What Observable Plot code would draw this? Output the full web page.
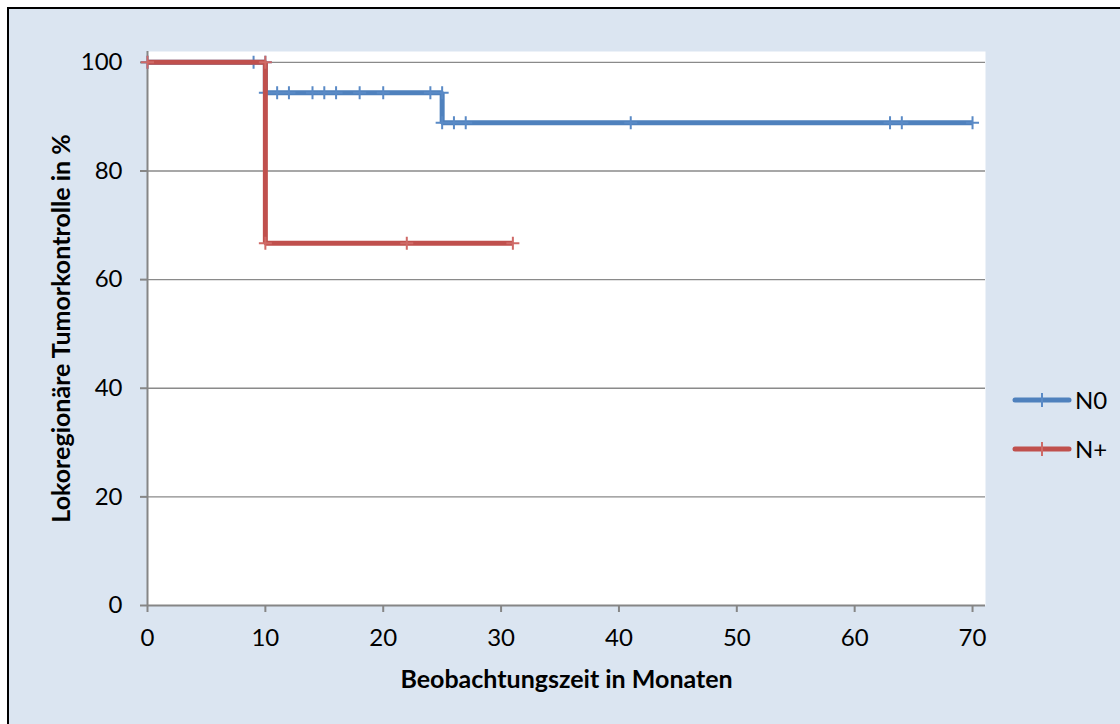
<!DOCTYPE html>
<html>
<head>
<meta charset="utf-8">
<script src="https://cdn.jsdelivr.net/npm/d3@7"></script>
<script src="https://cdn.jsdelivr.net/npm/@observablehq/plot@0.6"></script>
<style>
  html, body { margin: 0; padding: 0; overflow: hidden; background: #ffffff; }
  #wrap { position: relative; width: 1120px; height: 724px; overflow: hidden; font-family: Lato, "Open Sans", sans-serif; }
  #bg { position: absolute; left: 7px; top: 7px; width: 1200px; height: 800px; border: 2px solid #000; background: #dbe5f1; }
  #chart { position: absolute; left: 0; top: 0; }
  #legend { position: absolute; left: 1012px; top: 375px; }
  .item { display: flex; align-items: center; height: 49px; font-size: 24px; color: #000; }
  .item svg { margin-right: 3px; }
</style>
</head>
<body>
<div id="wrap">
  <div id="bg"></div>
  <div id="chart"></div>
  <div id="legend"></div>
</div>
<script>
// ---- data ----
const seriesNames = ["N0", "N+"];
const seriesColors = ["#4f81bd", "#c0504d"];
const markColors = ["#5a8ac6", "#cf6a67"];

const n0StepTime  = [0, 10, 25, 70];
const n0StepValue = [100, 94.4, 88.9, 88.9];
const nPlusStepTime  = [0, 10, 31];
const nPlusStepValue = [100, 66.7, 66.7];

const n0MarkTime  = [0, 9, 10, 10, 11, 12, 14, 15, 16, 18, 20, 24, 25, 25, 26, 27, 41, 63, 64, 70];
const n0MarkValue = [100, 100, 100, 94.4, 94.4, 94.4, 94.4, 94.4, 94.4, 94.4, 94.4, 94.4, 94.4, 88.9, 88.9, 88.9, 88.9, 88.9, 88.9, 88.9];
const nPlusMarkTime  = [0, 10, 10, 22, 31];
const nPlusMarkValue = [100, 100, 66.7, 66.7, 66.7];

const xTicks = [0, 10, 20, 30, 40, 50, 60, 70];
const yTicks = [0, 20, 40, 60, 80, 100];
const xLabel = "Beobachtungszeit in Monaten";
const yLabel = "Lokoregionäre Tumorkontrolle in %";

// ---- tables ----
const steps = [
  n0StepTime.map((t, i) => ({series: seriesNames[0], t, v: n0StepValue[i]})),
  nPlusStepTime.map((t, i) => ({series: seriesNames[1], t, v: nPlusStepValue[i]}))
];
const marks = [
  n0MarkTime.map((t, i) => ({series: seriesNames[0], t, v: n0MarkValue[i]})),
  nPlusMarkTime.map((t, i) => ({series: seriesNames[1], t, v: nPlusMarkValue[i]}))
];

const plusSymbol = {
  draw(ctx) {
    ctx.moveTo(0, -6.5); ctx.lineTo(0, 6.5);
    ctx.moveTo(-6.5, 0); ctx.lineTo(6.5, 0);
  }
};

const font = "Lato, 'Open Sans', sans-serif";

const seriesMarks = [];
for (let s = 0; s < seriesNames.length; s++) {
  seriesMarks.push(
    Plot.line(steps[s], {x: "t", y: "v", curve: "step-after", stroke: seriesColors[s], strokeWidth: 5, strokeLinejoin: "miter", strokeLinecap: "butt"}),
    Plot.dot(marks[s], {x: "t", y: "v", symbol: plusSymbol, fill: "none", stroke: markColors[s], strokeWidth: 2})
  );
}

const chart = Plot.plot({
  width: 1120,
  height: 724,
  marginLeft: 147,
  marginRight: 135,
  marginTop: 51,
  marginBottom: 119,
  x: {domain: [0, 71.1]},
  y: {domain: [0, 102]},
  style: {background: "transparent", fontFamily: font, color: "#000"},
  marks: [
    Plot.frame({fill: "#ffffff", stroke: null}),
    Plot.ruleY(yTicks.filter(d => d > 0), {stroke: "#8a8a8a", strokeWidth: 1.4}),
    Plot.ruleY([0], {stroke: "#868686", strokeWidth: 2}),
    Plot.ruleX([0], {stroke: "#868686", strokeWidth: 2}),
    Plot.axisX({ticks: xTicks, tickSize: 7, tickPadding: 16, stroke: "#868686", strokeWidth: 2, fontSize: 24, fill: "#000", label: null, tickFormat: d => String(d)}),
    Plot.axisY({ticks: yTicks, tickSize: 7, tickPadding: 18, stroke: "#868686", strokeWidth: 2, fontSize: 24, fill: "#000", label: null, tickFormat: d => String(d)}),
    Plot.text([xLabel], {frameAnchor: "bottom", textAnchor: "middle", dy: 82, fontSize: 25, fontWeight: "bold", fill: "#000"}),
    Plot.text([yLabel], {frameAnchor: "left", textAnchor: "middle", dx: -86, rotate: -90, fontSize: 25, fontWeight: "bold", fill: "#000"}),
    ...seriesMarks
  ]
});
document.getElementById("chart").appendChild(chart);

// ---- legend ----
const legend = document.getElementById("legend");
seriesNames.forEach((name, i) => {
  const item = document.createElement("div");
  item.className = "item";
  item.innerHTML =
    `<svg width="60" height="20"><line x1="3" y1="10" x2="57" y2="10" stroke="${seriesColors[i]}" stroke-width="5" stroke-linecap="round"/>` +
    `<line x1="30" y1="3" x2="30" y2="17" stroke="${markColors[i]}" stroke-width="2"/></svg><span>${name}</span>`;
  legend.appendChild(item);
});
</script>
</body>
</html>
